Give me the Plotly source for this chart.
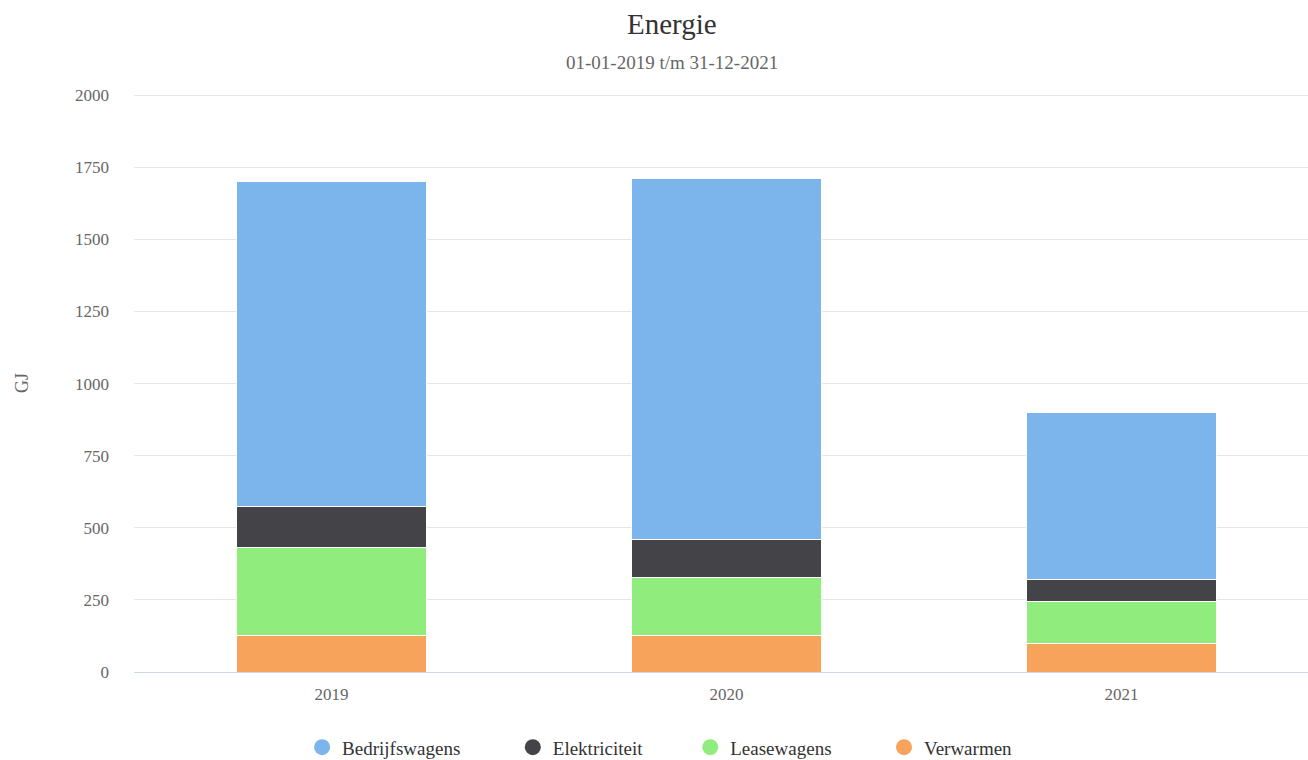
import plotly.graph_objects as go

years = ["2019", "2020", "2021"]
verwarmen = [127, 127, 100]
leasewagens = [305, 200, 144]
elektriciteit = [142, 131, 76]
bedrijfswagens = [1128, 1252, 579]

series = [
    ("Verwarmen", verwarmen, "#f7a35c"),
    ("Leasewagens", leasewagens, "#90ed7d"),
    ("Elektriciteit", elektriciteit, "#434348"),
    ("Bedrijfswagens", bedrijfswagens, "#7cb5ec"),
]
legend_order = ["Bedrijfswagens", "Elektriciteit", "Leasewagens", "Verwarmen"]
legend_pad = [10, 9, 10, 0]

FONT = "Liberation Serif, Times New Roman, serif"

fig = go.Figure()
for name, vals, col in series:
    fig.add_trace(go.Bar(
        x=years, y=vals, name=name,
        marker=dict(color=col, line=dict(color="#ffffff", width=1)),
        showlegend=False,
    ))
for i, name in enumerate(legend_order):
    col = [c for n, v, c in series if n == name][0]
    label = name + "\u00a0" * legend_pad[i]
    fig.add_trace(go.Scatter(
        x=[None], y=[None], mode="markers", name=label,
        marker=dict(color=col, size=18, symbol="circle"),
        showlegend=True,
    ))

L = 134
W = 1308 - L
fig.update_layout(
    width=1308, height=760,
    barmode="stack",
    bargap=0.519,
    plot_bgcolor="#ffffff",
    paper_bgcolor="#ffffff",
    margin=dict(l=L, r=0, t=94, b=88, autoexpand=False),
    font=dict(family=FONT, color="#666666", size=17),
    showlegend=True,
    legend=dict(
        orientation="h", x=(659.6 - L) / W, xanchor="center", y=-0.0975, yanchor="top",
        font=dict(family=FONT, size=19, color="#333333"),
        itemwidth=30, traceorder="normal",
    ),
    annotations=[
        dict(text="Energie", xref="paper", yref="paper", x=(672 - L) / W, y=1.0 + (94 - 24) / 578,
             xanchor="center", yanchor="middle", showarrow=False,
             font=dict(family=FONT, size=29, color="#333333")),
        dict(text="01-01-2019 t/m 31-12-2021", xref="paper", yref="paper",
             x=(672 - L) / W, y=1.0 + (94 - 63) / 578,
             xanchor="center", yanchor="middle", showarrow=False,
             font=dict(family=FONT, size=19, color="#666666")),
        dict(text="GJ", xref="paper", yref="paper", x=-(L - 22) / W, y=0.5,
             xanchor="center", yanchor="middle", showarrow=False, textangle=-90,
             font=dict(family=FONT, size=18, color="#666666")),
    ],
)
fig.update_xaxes(
    range=[-0.5, -0.5 + W / 395.0],
    showline=True, linecolor="#ccd6eb", linewidth=1, automargin=False,
    showgrid=False, ticks="", tickfont=dict(size=17, color="#666666"),
    ticklabelstandoff=7,
)
fig.update_yaxes(
    range=[0, 2004], tickvals=[0, 250, 500, 750, 1000, 1250, 1500, 1750, 2000],
    showgrid=True, gridcolor="#e6e6e6", gridwidth=1, zeroline=False, automargin=False,
    showline=False, ticks="", tickfont=dict(size=17, color="#666666"),
    ticklabelstandoff=24,
)

fig.write_html("out.html", post_script="document.body.style.margin='0';",
               config={"displayModeBar": False})
